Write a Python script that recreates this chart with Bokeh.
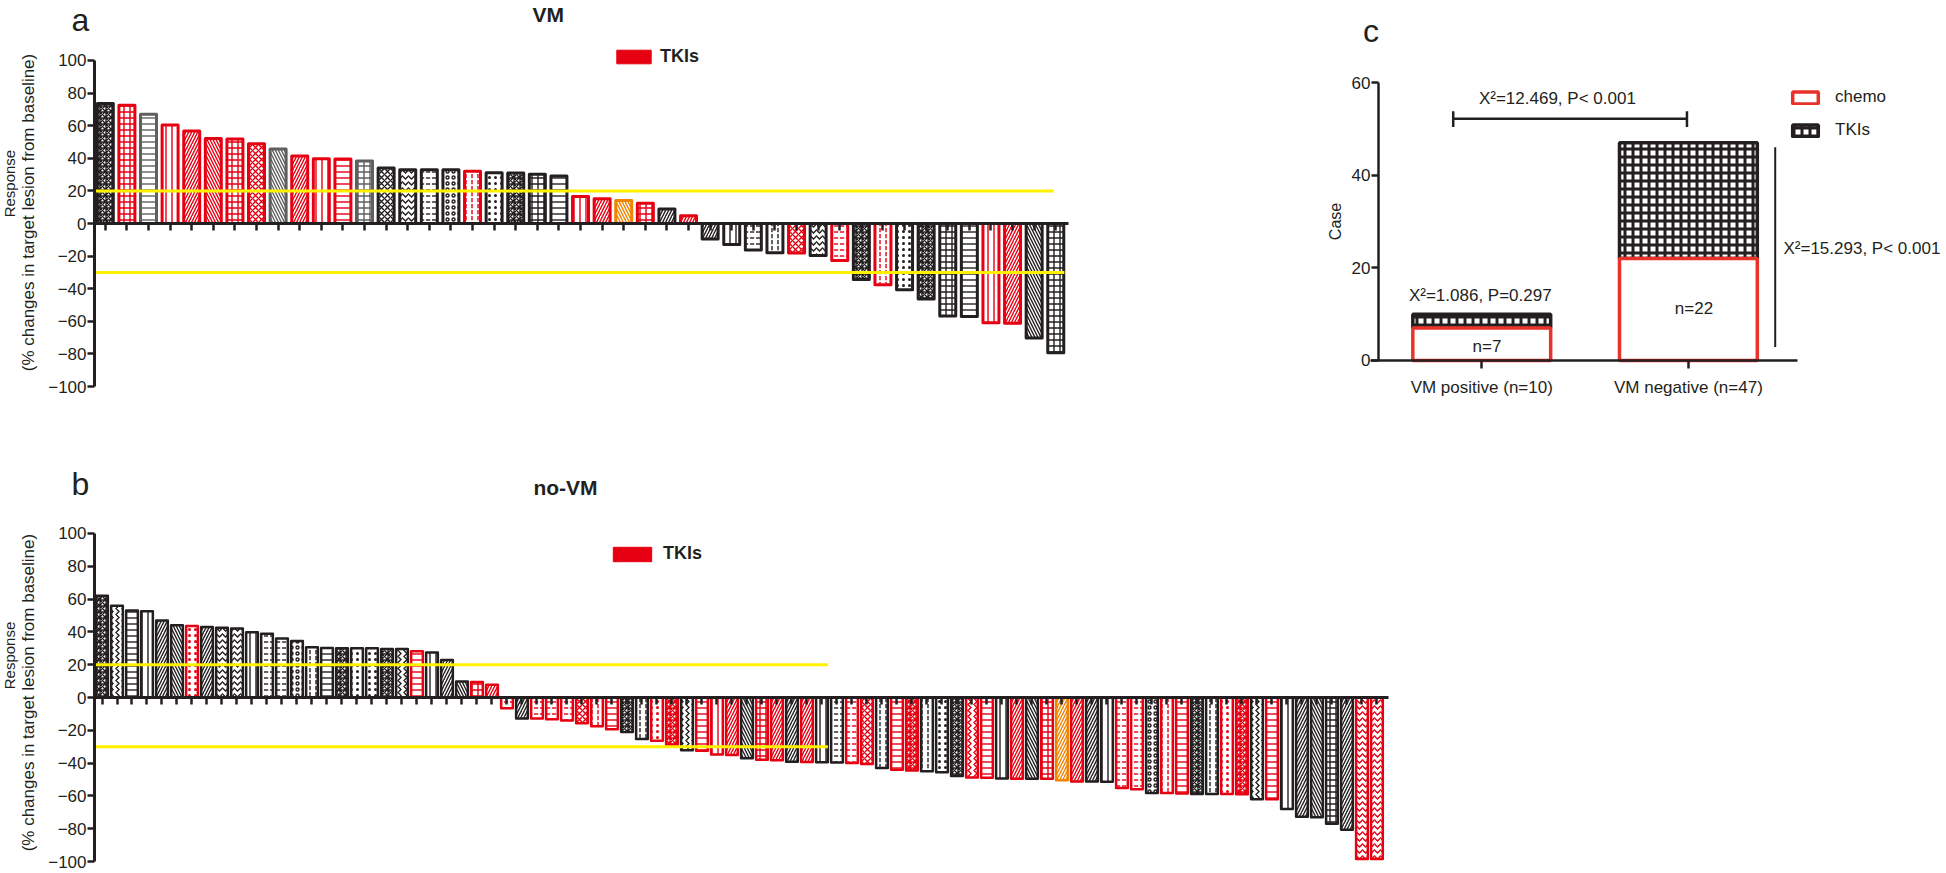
import math
from bokeh.plotting import figure
from bokeh.models import (ColumnDataSource, FixedTicker, Label, Legend,
                          LegendItem, Range1d)
from bokeh.layouts import column, row
from bokeh.embed import file_html
from bokeh.resources import INLINE

FONT = "Liberation Sans"
INK = "#231f20"

# ---------------- data ----------------
# panel a: VM  (% change of target lesion, sorted waterfall)
VM_RESPONSE = [73.6, 72.6, 67.0, 60.5, 56.8, 52.1, 51.9, 49.0, 45.7, 41.4,
               39.8, 39.6, 38.4, 34.0, 33.0, 33.0, 33.0, 32.0, 31.2, 31.0,
               30.2, 29.1, 16.6, 15.2, 14.1, 12.4, 8.9, 4.7, -9.5, -12.9,
               -16.3, -17.9, -18.1, -19.6, -22.7, -34.4, -37.5, -40.6, -46.3, -56.7,
               -57.1, -60.8, -61.2, -70.2, -79.2]
VM_GROUP = ["K", "R", "G", "R", "R", "R", "R", "R", "G", "R",
            "R", "R", "G", "K", "K", "K", "K", "R", "K", "K",
            "K", "K", "R", "R", "O", "R", "K", "R", "K", "K",
            "K", "K", "R", "K", "R", "K", "R", "K", "K", "K",
            "K", "R", "R", "K", "K"]
VM_PATTERN = ["*", "+", "-", "|", "/", "\\", "+", "x", "\\", "/",
              "|", "-", "+", "x", "v", '"', "o", ":", ".", "*",
              "+", "-", "|", "/", "\\", "+", "/", "/", "/", "|",
              '"', ":", "x", "v", '"', "*", ":", ".", "*", "+",
              "-", "|", "/", "\\", "+"]

# panel b: no-VM
NOVM_RESPONSE = [62.0, 56.0, 53.0, 52.6, 47.0, 44.0, 43.6, 43.0, 42.6, 42.0,
                 39.8, 38.8, 36.0, 34.5, 30.7, 30.2, 30.0, 30.0, 30.0, 29.5,
                 29.5, 28.2, 27.4, 22.8, 9.8, 9.5, 7.8, -6.5, -12.8, -12.8,
                 -13.2, -14.0, -15.7, -17.5, -19.4, -21.0, -25.3, -26.3, -28.8, -32.2,
                 -32.4, -34.7, -35.0, -37.0, -38.0, -38.2, -39.2, -39.4, -39.5, -39.6,
                 -40.0, -40.5, -43.0, -44.0, -44.5, -45.0, -45.6, -47.8, -48.8, -49.0,
                 -49.4, -49.5, -49.5, -49.6, -50.4, -51.2, -51.2, -51.4, -55.2, -56.0,
                 -58.2, -58.2, -58.5, -58.8, -58.8, -58.8, -59.0, -62.0, -62.0, -68.0,
                 -72.7, -73.0, -77.0, -80.6, -98.5, -98.5]
NOVM_GROUP = ["K", "K", "K", "K", "K", "K", "R", "K", "K", "K",
              "K", "K", "K", "K", "K", "K", "K", "K", "K", "K",
              "K", "R", "K", "K", "K", "R", "R", "R", "K", "R",
              "R", "R", "R", "R", "R", "K", "K", "R", "R", "K",
              "R", "R", "R", "K", "R", "R", "K", "R", "K", "K",
              "R", "R", "K", "R", "R", "K", "K", "K", "R", "R",
              "K", "R", "K", "R", "O", "R", "K", "K", "R", "R",
              "K", "R", "R", "K", "K", "R", "R", "K", "R", "K",
              "K", "K", "K", "K", "R", "R"]
NOVM_PATTERN = ["*", ">", "-", "|", "/", "\\", ".", "/", "v", "v",
                "|", '"', '"', "o", ":", "-", "*", ".", ".", "*",
                ">", "-", "|", "/", "\\", "+", "/", '"', "/", '"',
                '"', '"', "x", ":", "-", "*", ":", ".", "*", ">",
                "-", "|", "/", "\\", "+", "/", "/", "/", "|", '"',
                '"', "x", ":", "-", "*", ":", ".", "*", ">", "-",
                "|", "/", "\\", "+", "/", "/", "/", "|", '"', '"',
                "o", ":", "-", "*", ":", ".", "*", ">", "-", "|",
                "/", "\\", "+", "/", "v", "v"]

PD_LINE = 20      # progression threshold
PR_LINE = -30     # partial response threshold

# panel c
C_CATEGORIES = ["VM positive (n=10)", "VM negative (n=47)"]
C_CHEMO = [7, 22]
C_TKIS = [3, 25]

GROUP_COLOR = {"K": INK, "R": "#e60012", "G": "#5f5f5f", "O": "#f08300"}
RED = "#e60012"
YELLOW = "#fff100"


def style_axis(ax, size="17px"):
    ax.axis_line_width = 3
    ax.axis_line_color = INK
    ax.major_tick_out = 7
    ax.major_tick_in = 0
    ax.major_tick_line_width = 2.5
    ax.major_tick_line_color = INK
    ax.minor_tick_line_color = None
    ax.major_label_text_font = FONT
    ax.major_label_text_font_size = size
    ax.major_label_text_color = INK


def add_label(p, x, y, text, size, bold=False, align="center", angle=0.0):
    p.add_layout(Label(x=x, y=y, text=text, text_font=FONT,
                       text_font_size=size,
                       text_font_style="bold" if bold else "normal",
                       text_align=align, text_baseline="middle",
                       text_color=INK, angle=angle))


def waterfall(values, groups, patterns, *, width, height, x_rng, y_rng,
              x_end, bar_w, lw, yellow_ends, letter_xy, letter, title_xy,
              title, resp_xy, sub_xy, legend_loc, legend_glyph):
    n = len(values)
    xs = list(range(1, n + 1))
    p = figure(width=width, height=height, x_range=Range1d(*x_rng),
               y_range=Range1d(*y_rng), output_backend="svg",
               toolbar_location=None, min_border_left=0, min_border_right=0,
               min_border_top=0, min_border_bottom=0)
    p.outline_line_color = None
    p.grid.visible = False
    p.title.visible = False

    src = ColumnDataSource(dict(x=xs, top=values,
                                color=[GROUP_COLOR[g] for g in groups],
                                pat=patterns))
    p.vbar(x="x", top="top", bottom=0, width=bar_w, source=src,
           fill_color="white", line_color="color", line_width=lw,
           line_join="round", hatch_pattern="pat", hatch_color="color",
           hatch_scale=6, hatch_weight=1.4)

    p.segment(x0=[0.5, 0.5], y0=[PD_LINE, PR_LINE], x1=list(yellow_ends),
              y1=[PD_LINE, PR_LINE], line_color=YELLOW, line_width=3)

    xa = p.xaxis[0]
    style_axis(xa)
    xa.fixed_location = 0
    xa.ticker = FixedTicker(ticks=xs)
    xa.major_label_text_color = None
    xa.bounds = (0.5, x_end)

    ya = p.yaxis[0]
    style_axis(ya)
    ya.fixed_location = 0.5
    ya.ticker = FixedTicker(ticks=list(range(-100, 101, 20)))
    ya.bounds = (-100, 100)
    ya.major_label_standoff = 1

    add_label(p, resp_xy[0], resp_xy[1], "Response", "15px", angle=math.pi / 2)
    add_label(p, sub_xy[0], sub_xy[1],
              "(% changes in target lesion from baseline)", "17px",
              angle=math.pi / 2)
    add_label(p, letter_xy[0], letter_xy[1], letter, "32px")
    add_label(p, title_xy[0], title_xy[1], title, "21px", bold=True)

    tki_x = [x for x, g in zip(xs, groups) if g == "R"]
    tki_v = [v for v, g in zip(values, groups) if g == "R"]
    swatch = p.vbar(x=tki_x, top=tki_v, width=bar_w, fill_color=RED,
                    line_color=RED, visible=False)
    leg = Legend(items=[LegendItem(label="TKIs", renderers=[swatch])],
                 location=legend_loc, glyph_width=legend_glyph[0],
                 glyph_height=legend_glyph[1], label_text_font=FONT,
                 label_text_font_size="18px", label_text_font_style="bold",
                 label_text_color=INK, label_standoff=legend_glyph[2],
                 border_line_color=None, background_fill_alpha=0,
                 inactive_fill_alpha=0, padding=0, margin=0)
    p.add_layout(leg)
    return p


# panel a: frame spans the whole figure; 21.6 px per bar, 1.63 px per %
pa = waterfall(VM_RESPONSE, VM_GROUP, VM_PATTERN, width=1300, height=440,
               x_rng=(-3.852, 56.33), y_rng=(-133.1, 136.8),
               x_end=45.6, bar_w=0.74, lw=3, yellow_ends=(44.9, 45.4),
               letter_xy=(-0.15, 124.6), letter="a",
               title_xy=(21.5, 128.2), title="VM",
               resp_xy=(-3.435, 24.5), sub_xy=(-2.556, 6.75),
               legend_loc=(612, 373), legend_glyph=(43, 17, 5))

# panel b: 15 px per bar, 1.64 px per %
pb = waterfall(NOVM_RESPONSE, NOVM_GROUP, NOVM_PATTERN, width=1400, height=432,
               x_rng=(-5.767, 87.57), y_rng=(-106.7, 156.7),
               x_end=86.75, bar_w=0.78, lw=2.5, yellow_ends=(49.4, 49.4),
               letter_xy=(-0.433, 129.9), letter="b",
               title_xy=(31.9, 128.0), title="no-VM",
               resp_xy=(-5.167, 25.6), sub_xy=(-3.9, 3.0),
               legend_loc=(608, 308), legend_glyph=(48, 18, 7))

# ---------------- panel c ----------------
pc = figure(width=645, height=440, x_range=Range1d(0.123, 3.244),
            y_range=Range1d(-17.27, 77.7), output_backend="svg",
            toolbar_location=None, min_border_left=0, min_border_right=0,
            min_border_top=0, min_border_bottom=0)
pc.outline_line_color = None
pc.grid.visible = False
pc.title.visible = False

cx = [1, 2]
tki_top = [a + b for a, b in zip(C_CHEMO, C_TKIS)]
r_tki = pc.vbar(x=cx, bottom=C_CHEMO, top=tki_top, width=0.667,
                fill_color="white", line_color=INK, line_width=3.5,
                hatch_pattern="+", hatch_color=INK, hatch_scale=8,
                hatch_weight=3.0)
r_chemo = pc.vbar(x=cx, bottom=0, top=C_CHEMO, width=0.667, fill_color="white",
                  line_color="#e8322a", line_width=3.5)

style_axis(pc.xaxis[0])
style_axis(pc.yaxis[0])
pc.xaxis.fixed_location = 0
pc.xaxis.ticker = FixedTicker(ticks=cx)
pc.xaxis.major_label_overrides = {1: C_CATEGORIES[0], 2: C_CATEGORIES[1]}
pc.xaxis.bounds = (0.46, 2.53)
pc.xaxis.major_tick_out = 8
pc.xaxis.major_label_standoff = 10
pc.yaxis.fixed_location = 0.5
pc.yaxis.ticker = FixedTicker(ticks=[0, 20, 40, 60])
pc.yaxis.bounds = (0, 60)
pc.yaxis.major_label_standoff = 1
for ax in (pc.xaxis[0], pc.yaxis[0]):
    ax.axis_line_width = 2.5

# bracket and vertical comparison line
pc.segment(x0=[0.862, 0.862, 1.993], y0=[52.2, 50.4, 50.4],
           x1=[1.993, 0.862, 1.993], y1=[52.2, 53.8, 53.8],
           line_color=INK, line_width=2.5)
pc.segment(x0=[2.42], y0=[2.9], x1=[2.42], y1=[46.0],
           line_color=INK, line_width=2)

add_label(pc, 0.464, 71.2, "c", "32px")
add_label(pc, 0.294, 30.0, "Case", "16px", angle=math.pi / 2)
add_label(pc, 1.366, 56.55, "X\u00b2=12.469, P< 0.001", "17px")
add_label(pc, 0.993, 14.0, "X\u00b2=1.086, P=0.297", "17px")
add_label(pc, 1.025, 3.1, f"n={C_CHEMO[0]}", "17px")
add_label(pc, 2.027, 11.15, f"n={C_CHEMO[1]}", "17px")
add_label(pc, 2.46, 24.1, "X\u00b2=15.293, P< 0.001", "17px", align="left")

legc = Legend(items=[LegendItem(label="chemo", renderers=[r_chemo]),
                     LegendItem(label="TKIs", renderers=[r_tki])],
              location=(489, 300), glyph_width=32, glyph_height=15,
              label_text_font=FONT, label_text_font_size="17px",
              label_text_color=INK, label_standoff=14, spacing=13,
              border_line_color=None, background_fill_alpha=0,
              padding=0, margin=0)
pc.add_layout(legc)

layout = column(row(pa, pc), pb)
open("out.html", "w").write(file_html(layout, INLINE))
